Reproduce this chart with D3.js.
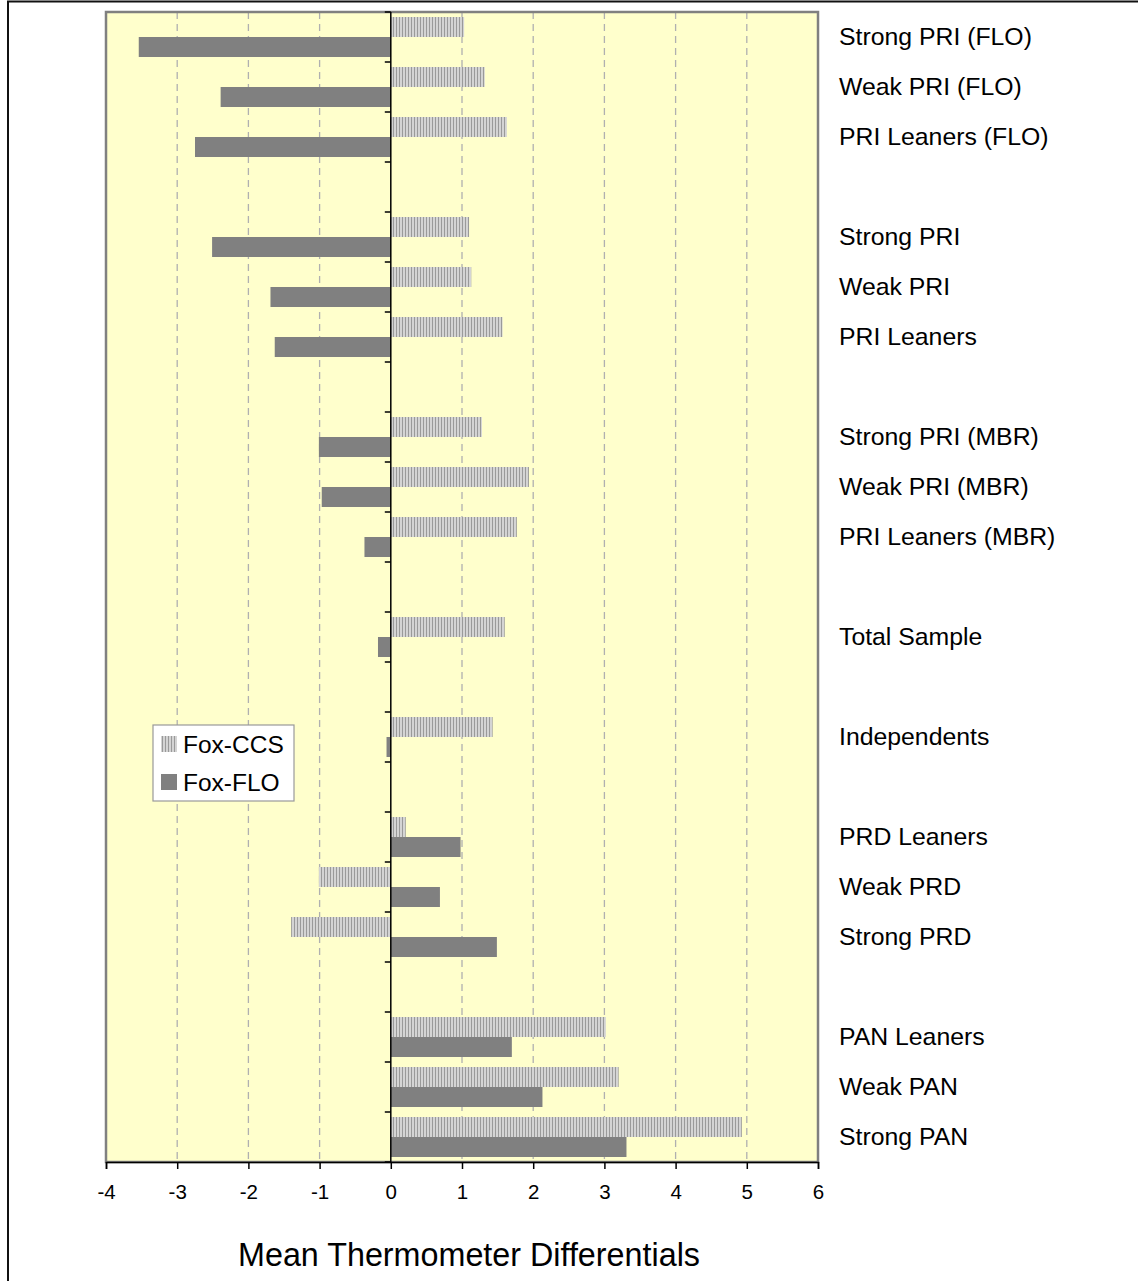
<!DOCTYPE html>
<html>
<head>
<meta charset="utf-8">
<script src="https://cdn.jsdelivr.net/npm/d3@7"></script>
<style>
  html, body { margin: 0; padding: 0; background: #fff; }
  svg { display: block; font-family: "Liberation Sans", Arial, sans-serif; }
</style>
</head>
<body>
<svg id="chart" width="1138" height="1281"></svg>
<script>
// Group rows from top to bottom; empty strings are spacer rows between groups
const categories = [
  "Strong PRI (FLO)", "Weak PRI (FLO)", "PRI Leaners (FLO)", "",
  "Strong PRI", "Weak PRI", "PRI Leaners", "",
  "Strong PRI (MBR)", "Weak PRI (MBR)", "PRI Leaners (MBR)", "",
  "Total Sample", "",
  "Independents", "",
  "PRD Leaners", "Weak PRD", "Strong PRD", "",
  "PAN Leaners", "Weak PAN", "Strong PAN"
];
const foxCCS = [
  1.03, 1.32, 1.63, null,
  1.10, 1.13, 1.57, null,
  1.28, 1.94, 1.77, null,
  1.60, null,
  1.43, null,
  0.21, -1.01, -1.40, null,
  3.02, 3.20, 4.93
];
const foxFLO = [
  -3.54, -2.39, -2.75, null,
  -2.51, -1.69, -1.63, null,
  -1.01, -0.97, -0.37, null,
  -0.18, null,
  -0.06, null,
  0.98, 0.69, 1.49, null,
  1.70, 2.13, 3.31
];
const seriesNames = ["Fox-CCS", "Fox-FLO"];
const xTicks = [-4, -3, -2, -1, 0, 1, 2, 3, 4, 5, 6];
const xTitle = "Mean Thermometer Differentials";

const svg = d3.select("#chart");
const plot = { left: 106, right: 818, top: 12, bottom: 1162 };

// hatched fill used for the Fox-CCS series
const defs = svg.append("defs");
const pat = defs.append("pattern")
  .attr("id", "vstripe").attr("patternUnits", "userSpaceOnUse")
  .attr("width", 3).attr("height", 4);
pat.append("rect").attr("width", 3).attr("height", 4).attr("fill", "#d4d4d4");
pat.append("rect").attr("x", 0).attr("width", 1).attr("height", 4).attr("fill", "#9a9a9a");

// outer frame (top and left edges)
svg.append("line").attr("x1", 7).attr("x2", 1138).attr("y1", 1.5).attr("y2", 1.5)
  .attr("stroke", "#111").attr("stroke-width", 2);
svg.append("line").attr("x1", 8).attr("x2", 8).attr("y1", 1).attr("y2", 1281)
  .attr("stroke", "#111").attr("stroke-width", 2);

const x = d3.scaleLinear().domain([-4, 6]).range([plot.left, plot.right]);
const y = d3.scaleBand().domain(d3.range(categories.length)).range([plot.top, plot.bottom]).padding(0);
const bw = y.bandwidth();
const barH = bw * 0.4;
const inset = bw * 0.1;

// plot background
svg.append("rect").attr("x", plot.left).attr("y", plot.top)
  .attr("width", plot.right - plot.left).attr("height", plot.bottom - plot.top)
  .attr("fill", "#ffffcc");

// dashed vertical gridlines
svg.append("g").selectAll("line").data(xTicks.filter(t => t > -4 && t < 6 && t !== 0))
  .join("line")
  .attr("x1", d => x(d)).attr("x2", d => x(d))
  .attr("y1", plot.top).attr("y2", plot.bottom)
  .attr("stroke", "#b0b0b0").attr("stroke-width", 1.3).attr("stroke-dasharray", "7,5");

// plot border
svg.append("rect").attr("x", plot.left).attr("y", plot.top)
  .attr("width", plot.right - plot.left).attr("height", plot.bottom - plot.top)
  .attr("fill", "none").attr("stroke", "#808080").attr("stroke-width", 2.5);

const idx = d3.range(categories.length);

// Fox-CCS bars (upper half of each row)
svg.append("g").selectAll("rect").data(idx.filter(i => foxCCS[i] !== null))
  .join("rect")
  .attr("x", i => x(Math.min(0, foxCCS[i])))
  .attr("width", i => Math.abs(x(foxCCS[i]) - x(0)))
  .attr("y", i => y(i) + inset)
  .attr("height", barH)
  .attr("fill", "url(#vstripe)");

// Fox-FLO bars (lower half of each row)
svg.append("g").selectAll("rect").data(idx.filter(i => foxFLO[i] !== null))
  .join("rect")
  .attr("x", i => x(Math.min(0, foxFLO[i])))
  .attr("width", i => Math.abs(x(foxFLO[i]) - x(0)))
  .attr("y", i => y(i) + inset + barH)
  .attr("height", barH)
  .attr("fill", "#808080");

// category axis along zero
const zeroX = x(0);
svg.append("line").attr("x1", zeroX).attr("x2", zeroX)
  .attr("y1", plot.top).attr("y2", plot.bottom)
  .attr("stroke", "#000").attr("stroke-width", 1.5);
svg.append("g").selectAll("line").data(d3.range(categories.length + 1))
  .join("line")
  .attr("x1", zeroX - 6).attr("x2", zeroX)
  .attr("y1", i => plot.top + i * bw).attr("y2", i => plot.top + i * bw)
  .attr("stroke", "#000").attr("stroke-width", 1.5);

// category labels on the right
svg.append("g").selectAll("text").data(idx.filter(i => categories[i] !== ""))
  .join("text")
  .attr("x", 839)
  .attr("y", i => y(i) + bw / 2 - 1)
  .attr("dy", "0.35em")
  .attr("font-size", 24.8)
  .attr("fill", "#000")
  .text(i => categories[i]);

// value axis
const xAxis = svg.append("g").attr("transform", `translate(0,${plot.bottom})`)
  .call(d3.axisBottom(x).tickValues(xTicks).tickFormat(d3.format("d")).tickSize(7).tickPadding(15));
xAxis.select(".domain").attr("stroke", "#000").attr("stroke-width", 1.5);
xAxis.selectAll(".tick line").attr("stroke", "#000").attr("stroke-width", 1.5);
xAxis.selectAll(".tick text").attr("font-size", 20.5).attr("fill", "#000")
  .attr("font-family", "'Liberation Sans', Arial, sans-serif")
  .text(d => d < 0 ? "-" + Math.abs(d) : d);

svg.append("text").attr("x", 469).attr("y", 1255).attr("dy", "0.35em")
  .attr("text-anchor", "middle").attr("font-size", 32.3).attr("fill", "#000")
  .text(xTitle);

// legend
const lg = svg.append("g").attr("transform", "translate(153,725)");
lg.append("rect").attr("width", 141).attr("height", 76)
  .attr("fill", "#fff").attr("stroke", "#999").attr("stroke-width", 1.2);
const fills = ["url(#vstripe)", "#808080"];
seriesNames.forEach((name, k) => {
  const yy = 11 + k * 38;
  lg.append("rect").attr("x", 8).attr("y", yy).attr("width", 16).attr("height", 16).attr("fill", fills[k]);
  lg.append("text").attr("x", 30).attr("y", yy + 8).attr("dy", "0.35em")
    .attr("font-size", 24.5).attr("fill", "#000").text(name);
});
</script>
</body>
</html>
